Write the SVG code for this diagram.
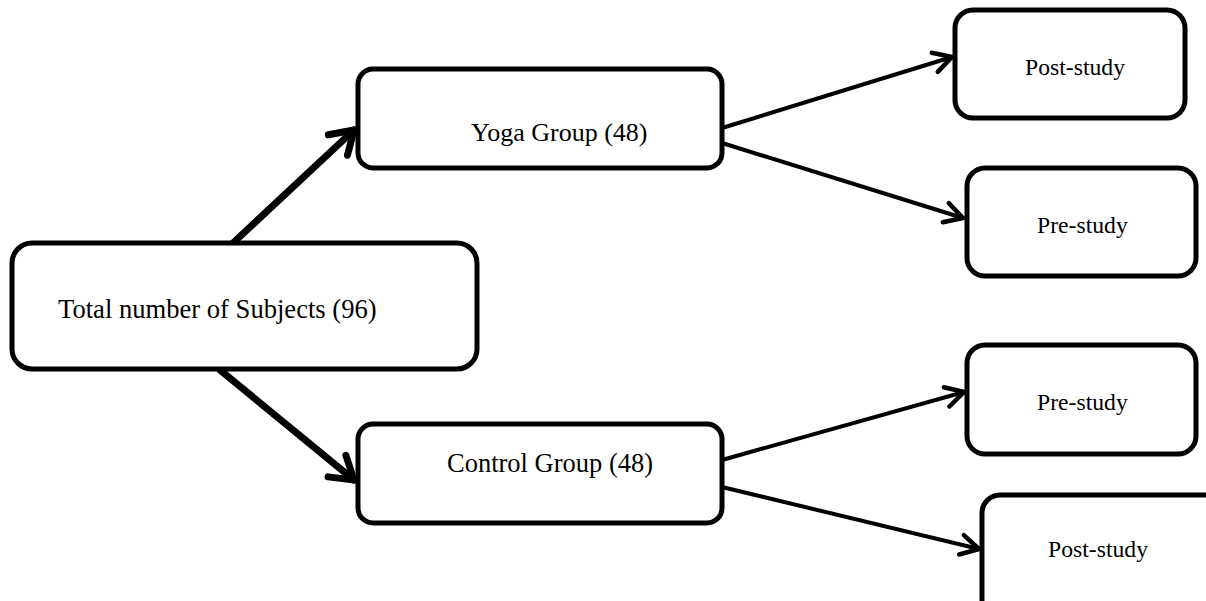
<svg xmlns="http://www.w3.org/2000/svg" width="1206" height="601" viewBox="0 0 1206 601">
<defs>
<style>
.box{fill:#fff;stroke:#000;stroke-width:5}
.t{font-family:"Liberation Serif","Times New Roman",serif;fill:#000}
.thick{stroke:#000;stroke-width:7;fill:none;stroke-linecap:round}
.thin{stroke:#000;stroke-width:4;fill:none;stroke-linecap:round}
</style>
<marker id="ahB" markerUnits="userSpaceOnUse" viewBox="-30 -20 40 40" markerWidth="40" markerHeight="40" refX="0" refY="0" orient="auto">
<path d="M-22,-14 L0,0 L-22,14" fill="none" stroke="#000" stroke-width="7" stroke-linecap="round" stroke-linejoin="round"/>
</marker>
<marker id="ahS" markerUnits="userSpaceOnUse" viewBox="-30 -20 40 40" markerWidth="40" markerHeight="40" refX="0" refY="0" orient="auto">
<path d="M-18,-10 L0,0 L-18,10" fill="none" stroke="#000" stroke-width="4.5" stroke-linecap="round" stroke-linejoin="round"/>
</marker>
</defs>
<rect width="1206" height="601" fill="#fff"/>
<g id="connectors">
<line class="thick" x1="233" y1="243" x2="354" y2="130" marker-end="url(#ahB)"/>
<line class="thick" x1="220" y1="370" x2="354" y2="480" marker-end="url(#ahB)"/>
<line class="thin" x1="722" y1="128" x2="952" y2="57" marker-end="url(#ahS)"/>
<line class="thin" x1="722" y1="143" x2="963" y2="218" marker-end="url(#ahS)"/>
<line class="thin" x1="722" y1="460" x2="964" y2="392" marker-end="url(#ahS)"/>
<line class="thin" x1="722" y1="487" x2="979" y2="549" marker-end="url(#ahS)"/>
</g>
<g id="total">
<rect class="box" x="12" y="243" width="465" height="126" rx="20"/>
<text class="t" x="58" y="318" font-size="26.6">Total number of Subjects (96)</text>
</g>
<g id="yoga">
<rect class="box" x="358" y="69" width="364" height="99" rx="15"/>
<text class="t" x="471" y="141" font-size="26">Yoga Group (48)</text>
</g>
<g id="control">
<rect class="box" x="358" y="424" width="364" height="99" rx="15"/>
<text class="t" x="447" y="472" font-size="26.5">Control Group (48)</text>
</g>
<g id="post1">
<rect class="box" x="955" y="10" width="230" height="108" rx="18"/>
<text class="t" x="1025" y="75" font-size="23.7">Post-study</text>
</g>
<g id="pre1">
<rect class="box" x="967" y="168" width="229" height="108" rx="18"/>
<text class="t" x="1037" y="233" font-size="23.7">Pre-study</text>
</g>
<g id="pre2">
<rect class="box" x="967" y="345" width="229" height="109" rx="18"/>
<text class="t" x="1037" y="410" font-size="23.7">Pre-study</text>
</g>
<g id="post2">
<rect class="box" x="982" y="495" width="240" height="130" rx="18"/>
<text class="t" x="1048" y="557" font-size="23.7">Post-study</text>
</g>
</svg>
